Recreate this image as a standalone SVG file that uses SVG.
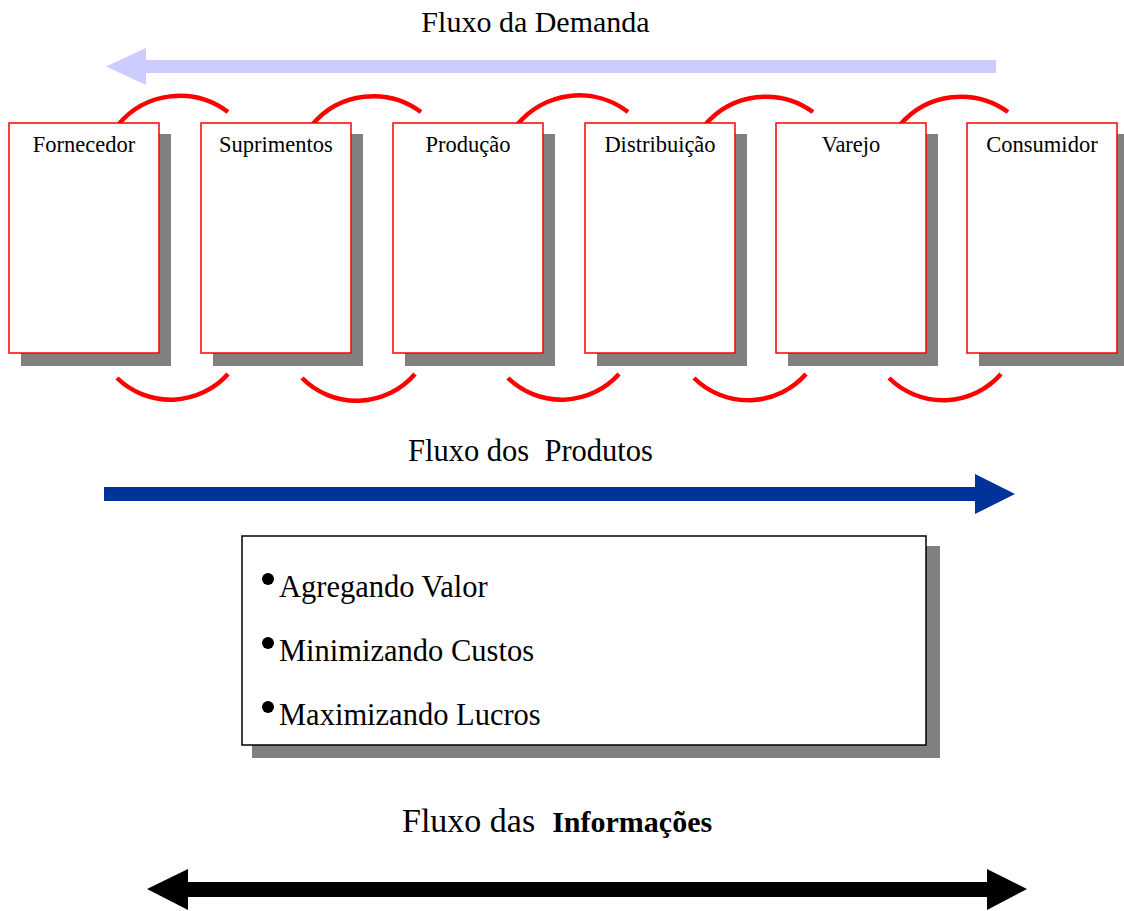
<svg xmlns="http://www.w3.org/2000/svg" width="1124" height="911" viewBox="0 0 1124 911">
  <style>
    .title { font-family: "Liberation Serif", "Times New Roman", serif; font-size: 30px; fill: #000; }
    .label { font-family: "Liberation Serif", "Times New Roman", serif; font-size: 22.5px; fill: #000; text-anchor: middle; }
    .item { font-family: "Liberation Serif", "Times New Roman", serif; font-size: 30.5px; fill: #000; }
    .stage { fill: #ffffff; stroke: #ff0000; stroke-width: 1.5; }
    .shadow { fill: #808080; }
    .link { fill: none; stroke: #ff0000; stroke-width: 4.5; }
  </style>
  <rect width="1124" height="911" fill="#ffffff"/>

  <!-- flow of demand (right to left) -->
  <g id="demand-flow">
    <text class="title" x="535.5" y="32" text-anchor="middle">Fluxo da Demanda</text>
    <polygon points="996,60 146,60 146,48 106,66.5 146,85 146,73 996,73" fill="#ccccff"/>
  </g>

  <!-- stage shadows -->
  <g id="shadows">
    <rect class="shadow" x="21" y="134" width="150" height="232"/>
    <rect class="shadow" x="213" y="134" width="150" height="232"/>
    <rect class="shadow" x="405" y="134" width="150" height="232"/>
    <rect class="shadow" x="597" y="134" width="150" height="232"/>
    <rect class="shadow" x="788" y="134" width="150" height="232"/>
    <rect class="shadow" x="979" y="134" width="150" height="232"/>
  </g>

  <!-- links between stages -->
  <g id="connectors">
    <path class="link" d="M118,125 A80,80 0 0 1 228,112"/>
    <path class="link" d="M312,125 A80,80 0 0 1 421,112"/>
    <path class="link" d="M517,125 A80,80 0 0 1 628,112"/>
    <path class="link" d="M705,125 A80,80 0 0 1 813,112"/>
    <path class="link" d="M900,125 A80,80 0 0 1 1008,112"/>
    <path class="link" d="M117,378 A77,77 0 0 0 228,374"/>
    <path class="link" d="M302,378 A77,77 0 0 0 415,374"/>
    <path class="link" d="M508,378 A77,77 0 0 0 619,374"/>
    <path class="link" d="M694,378 A77,77 0 0 0 806,374"/>
    <path class="link" d="M889,378 A77,77 0 0 0 1001,374"/>
  </g>

  <g id="fornecedor">
    <rect class="stage" x="9" y="123" width="150" height="230"/>
    <text class="label" x="84" y="152">Fornecedor</text>
  </g>
  <g id="suprimentos">
    <rect class="stage" x="201" y="123" width="150" height="230"/>
    <text class="label" x="276" y="152">Suprimentos</text>
  </g>
  <g id="producao">
    <rect class="stage" x="393" y="123" width="150" height="230"/>
    <text class="label" x="468" y="152">Produção</text>
  </g>
  <g id="distribuicao">
    <rect class="stage" x="585" y="123" width="150" height="230"/>
    <text class="label" x="660" y="152">Distribuição</text>
  </g>
  <g id="varejo">
    <rect class="stage" x="776" y="123" width="150" height="230"/>
    <text class="label" x="851" y="152">Varejo</text>
  </g>
  <g id="consumidor">
    <rect class="stage" x="967" y="123" width="150" height="230"/>
    <text class="label" x="1042" y="152">Consumidor</text>
  </g>

  <!-- flow of products (left to right) -->
  <g id="product-flow">
    <text class="title" x="408" y="461" style="font-size:30.5px" xml:space="preserve">Fluxo dos  Produtos</text>
    <polygon points="104,487 975,487 975,474 1015,494 975,514 975,501 104,501" fill="#003399"/>
  </g>

  <!-- goals box -->
  <g id="goals">
    <rect class="shadow" x="252" y="546" width="688" height="212"/>
    <rect x="242" y="536" width="684" height="209" fill="#ffffff" stroke="#000000" stroke-width="1.5"/>
    <circle cx="268" cy="579" r="6" fill="#000"/>
    <text class="item" x="279" y="597">Agregando Valor</text>
    <circle cx="268" cy="643" r="6" fill="#000"/>
    <text class="item" x="279" y="661">Minimizando Custos</text>
    <circle cx="268" cy="707" r="6" fill="#000"/>
    <text class="item" x="279" y="725">Maximizando Lucros</text>
  </g>

  <!-- flow of information (both ways) -->
  <g id="information-flow">
    <text class="title" x="402" y="832" style="font-size:34px" xml:space="preserve">Fluxo das  <tspan style="font-weight:bold;font-size:30px">Informações</tspan></text>
    <polygon points="147,889 188,869 188,882 987,882 987,869 1027,889 987,910 987,897 188,897 188,910" fill="#000000"/>
  </g>
</svg>
